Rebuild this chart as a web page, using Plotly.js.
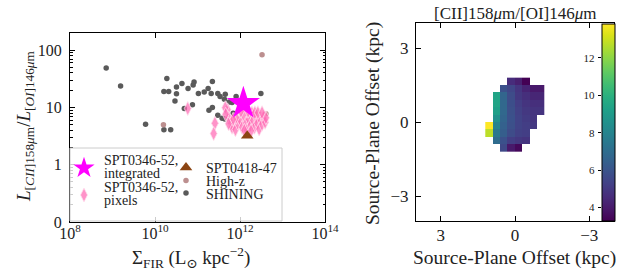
<!DOCTYPE html>
<html><head><meta charset="utf-8">
<script src="https://cdn.plot.ly/plotly-3.0.1.min.js"></script>
<style>html,body{margin:0;padding:0;background:#fff;} #chart{width:636px;height:274px;}</style>
</head><body><div id="chart"></div>
<script>
// ---------- data: left panel ----------
const shiningSigma = [7.1e8, 1.55e9, 6.0e9, 1.62e10, 2.34e10, 1.62e10, 2.1e10, 1.9e10, 3.2e10, 4.3e10, 3.2e10, 2.95e10, 6.0e10, 7.9e10, 8.3e10, 4.9e10, 7.6e10, 1.05e11, 1.44e11, 1.78e11, 2.24e11, 2.1e11, 3.0e11, 3.4e11, 4.5e11, 4.3e11, 5.6e11, 6.5e11, 8.1e11, 1.86e11, 2.24e11, 3.0e11, 3.8e11, 6.9e11, 3.1e12, 4.4e11];
const shiningRatio = [49, 23.7, 5.1, 4.1, 4.1, 18.9, 18.9, 32, 22.8, 26.3, 17.3, 13, 21.4, 24.6, 27.7, 9.6, 11.1, 17.5, 18.6, 21.4, 28.4, 17.6, 17.5, 15.5, 17, 13.9, 12.5, 12.2, 15.5, 8.9, 10, 7.3, 6.5, 7.9, 17.5, 6.3];

const highzSigma = [1.58e10, 3.3e12, 4.07e12];
const highzRatio = [5.0, 83.5, 7.8];

const pixelSigma = [5.9e10, 2.57e11, 2.4e11, 5.1e11, 5.4e11, 6.2e11, 6.5e11, 7.8e11, 8.9e11, 1.02e12, 1.12e12, 1.23e12, 1.38e12, 1.45e12, 1.62e12, 1.78e12, 1.9e12, 2.04e12, 2.19e12, 2.4e12, 2.57e12, 2.82e12, 3.0e12, 3.3e12, 3.55e12, 3.9e12, 4.07e12, 8.1e11, 1.05e12, 6.9e11, 1.55e12, 2.24e12, 1.26e12, 1.82e12, 2.63e12, 3.3e12, 4.5e11, 4.6e11, 5.4e11];
const pixelRatio = [9.6, 5.3, 3.5, 9.1, 6.6, 5.3, 4.5, 4.1, 5.3, 6.0, 4.5, 7.3, 5.3, 4.0, 6.2, 4.9, 8.0, 6.0, 4.5, 6.7, 5.3, 4.2, 6.2, 5.1, 6.7, 5.5, 6.6, 6.7, 8.6, 6.2, 8.6, 8.1, 4.0, 3.9, 8.1, 8.1, 9.9, 7.6, 5.2];

const spt0418Sigma = [1.48e12];
const spt0418Ratio = [3.2];

const integSigma = [1.2e12];
const integRatio = [11.8];

const xTickVals = [1e8, 1e10, 1e12, 1e14];
const xTickText = ['10<sup>8</sup>', '10<sup>10</sup>', '10<sup>12</sup>', '10<sup>14</sup>'];
const yTickVals = [0.1, 1, 10, 100];
const yTickText = ['0', '1', '10', '100'];

// ---------- data: right panel (ratio map) ----------
const mapX = [1.05, 0.75, 0.45, 0.15, -0.15, -0.45, -0.75, -1.05];
const mapY = [-1.05, -0.75, -0.45, -0.15, 0.15, 0.45, 0.75, 1.05, 1.35, 1.65];
const ratioMap = [
  [null, null, 5.6, 4.0, 3.5, null, null, null],
  [null, 7.0, 5.9, 5.2, 5.0, 4.85, null, null],
  [12.75, 7.5, 6.4, 5.7, 5.3, 5.2, null, null],
  [13.8, 8.0, 6.5, 5.85, 5.4, 5.2, 5.0, null],
  [null, 8.55, 6.7, 5.9, 5.4, 5.1, 4.9, null],
  [null, 9.2, 6.8, 5.85, 5.3, 5.0, 4.85, 4.85],
  [null, 9.4, 6.8, 5.8, 5.2, 4.85, 4.7, 4.7],
  [null, 9.4, 6.7, 5.7, 5.0, 4.7, 4.4, 4.4],
  [null, null, 5.9, 5.5, 4.9, 4.35, 4.0, 4.0],
  [null, null, null, 4.6, 4.2, 3.3, null, null]
];
const offsetTicks = [-3, 0, 3];
const cbTicks = [4, 6, 8, 10, 12];

// ---------- layout helpers ----------
const W = 636, H = 274;
const px = v => v / W;
const py = v => 1 - v / H;
const FONT = 'Liberation Serif, DejaVu Serif, serif';
const INK = '#222';

const flat = ratioMap.flat().filter(v => v !== null);
const zlo = Math.min(...flat), zhi = Math.max(...flat);

const span14 = s => '<span style="font-size:14px">' + s + '</span>';

const traces = [
  {type:'scatter', mode:'markers', x:shiningSigma, y:shiningRatio, name:'SHINING', legend:'legend5',
   marker:{color:'#5a5a5a', size:5.5, line:{width:0}}},
  {type:'scatter', mode:'markers', x:highzSigma, y:highzRatio, name:'High-z', legend:'legend4',
   marker:{color:'#bc8f8f', size:5.5, line:{width:0}}},
  {type:'scatter', mode:'markers', x:pixelSigma, y:pixelRatio, name:span14('SPT0346-52,') + '<br>' + span14('pixels'), legend:'legend2',
   marker:{symbol:'diamond-tall', color:'rgba(255,105,180,0.72)', size:10, line:{color:'rgba(255,225,238,0.95)', width:0.8}}},
  {type:'scatter', mode:'markers', x:integSigma, y:integRatio, name:span14('SPT0346-52,') + '<br>' + span14('integrated'), legend:'legend',
   marker:{symbol:'star', color:'#ff00ff', size:25, line:{width:0}}},
  {type:'scatter', mode:'markers', x:spt0418Sigma, y:spt0418Ratio, name:'SPT0418-47', legend:'legend3',
   marker:{symbol:'triangle-up', color:'#8b4513', size:11, line:{width:0}}},
  {type:'heatmap', x:mapX, y:mapY, z:ratioMap, xaxis:'x2', yaxis:'y2', colorscale:'Viridis',
   zmin:zlo, zmax:zhi, hoverongaps:false, showscale:true,
   colorbar:{x:px(601.7), xanchor:'left', xref:'paper', xpad:0, y:py(24), yanchor:'top', yref:'paper', ypad:0,
     len:196.7, lenmode:'pixels', thickness:12.6, thicknessmode:'pixels', outlinewidth:1, outlinecolor:'#000',
     ticks:'', showticklabels:false}},
  {type:'scatter', x:[null], y:[null], xaxis:'x3', yaxis:'y3', showlegend:false, hoverinfo:'skip'}
];

const axisCommon = {showline:true, linecolor:'#000', linewidth:1, mirror:'allticks', ticks:'inside', ticklen:5,
  tickwidth:1, tickcolor:'#000', showgrid:false, zeroline:false, fixedrange:true};

const legBase = {bgcolor:'rgba(0,0,0,0)', borderwidth:0, xanchor:'left', yanchor:'middle', xref:'paper', yref:'paper',
  itemclick:false, itemdoubleclick:false};

const layout = {
  width:W, height:H, margin:{l:0, r:0, t:0, b:0}, paper_bgcolor:'#fff', plot_bgcolor:'#fff',
  showlegend:true,
  font:{family:FONT, color:INK},
  xaxis:Object.assign({}, axisCommon, {domain:[px(70), px(325)], anchor:'y', type:'log', range:[8, 14],
    tickvals:xTickVals, ticktext:xTickText, ticklabelstandoff:-3, tickfont:{family:FONT, size:16, color:INK}}),
  yaxis:Object.assign({}, axisCommon, {domain:[py(222), py(33)], anchor:'x', type:'log', range:[-1, 2.3],
    tickvals:yTickVals, ticktext:yTickText, ticklabelstandoff:4, tickfont:{family:FONT, size:16, color:INK},
    minor:{ticks:'inside', ticklen:2.5, tickcolor:'#000', dtick:'D1', showgrid:false}}),
  xaxis2:Object.assign({}, axisCommon, {domain:[px(416), px(614)], anchor:'y2', range:[4, -4],
    tickvals:offsetTicks, ticklabelstandoff:-1, tickfont:{family:FONT, size:17, color:INK}}),
  yaxis2:Object.assign({}, axisCommon, {domain:[py(221), py(23.3)], anchor:'x2', range:[-4, 4],
    tickvals:offsetTicks, ticklabelstandoff:3, tickfont:{family:FONT, size:17, color:INK}}),
  xaxis3:{domain:[px(601.7), px(614.3)], anchor:'y3', visible:false, range:[0, 1], fixedrange:true},
  yaxis3:{domain:[py(220.7), py(24)], anchor:'x3', side:'left', range:[zlo, zhi], tickvals:cbTicks,
    ticks:'outside', ticklen:3, tickcolor:'#000', showline:false, showgrid:false, zeroline:false,
    ticklabelstandoff:1, tickfont:{family:FONT, size:11, color:INK}, fixedrange:true},
  shapes:[{type:'rect', xref:'paper', yref:'paper', x0:px(70), x1:px(282), y0:py(221), y1:py(148),
    fillcolor:'rgba(255,255,255,0.8)', line:{color:'#cccccc', width:1}, layer:'above'}],
  legend:Object.assign({}, legBase, {x:px(64), y:py(168), font:{family:FONT, size:10, color:INK}}),
  legend2:Object.assign({}, legBase, {x:px(64), y:py(195), font:{family:FONT, size:10, color:INK}}),
  legend3:Object.assign({}, legBase, {x:px(166), y:py(168), font:{family:FONT, size:14, color:INK}}),
  legend4:Object.assign({}, legBase, {x:px(166), y:py(181), font:{family:FONT, size:14, color:INK}}),
  legend5:Object.assign({}, legBase, {x:px(166), y:py(193.5), font:{family:FONT, size:14, color:INK}}),
  annotations:[
    {xref:'paper', yref:'paper', x:px(25), y:py(126), textangle:-90, showarrow:false, xanchor:'center', yanchor:'middle',
     text:'<i>L</i><sub>[<i>CII</i>]158<i>μ</i>m</sub>/<i>L</i><sub>[<i>OI</i>]146<i>μ</i>m</sub>',
     font:{family:FONT, size:19, color:INK}},
    {xref:'paper', yref:'paper', x:px(191), y:py(257), showarrow:false, xanchor:'center', yanchor:'middle',
     text:'Σ<sub>FIR</sub> (L<sub>⊙</sub> kpc<sup>−2</sup>)', font:{family:FONT, size:19, color:INK}},
    {xref:'paper', yref:'paper', x:px(373), y:py(124), textangle:-90, showarrow:false, xanchor:'center', yanchor:'middle',
     text:'Source-Plane Offset (kpc)', font:{family:FONT, size:19.5, color:INK}},
    {xref:'paper', yref:'paper', x:px(514.5), y:py(258), showarrow:false, xanchor:'center', yanchor:'middle',
     text:'Source-Plane Offset (kpc)', font:{family:FONT, size:19.5, color:INK}},
    {xref:'paper', yref:'paper', x:px(515), y:py(13), showarrow:false, xanchor:'center', yanchor:'middle',
     text:'[CII]158<i>μ</i>m/[OI]146<i>μ</i>m', font:{family:FONT, size:17, color:INK}}
  ]
};

Plotly.newPlot('chart', traces, layout, {staticPlot:true, displayModeBar:false});
</script></body></html>
